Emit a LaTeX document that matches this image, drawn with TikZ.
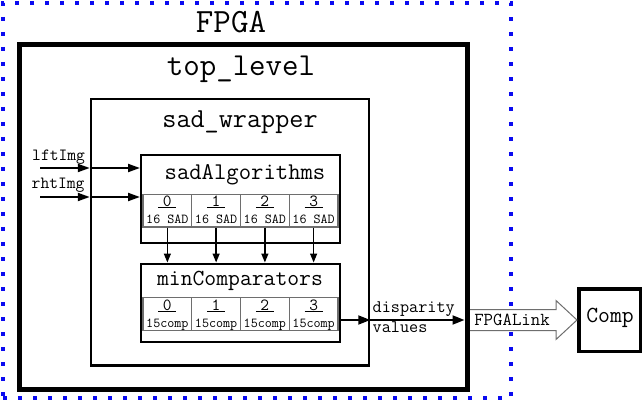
\documentclass[tikz,border=0pt]{standalone}
\usepackage{fontspec}
\usetikzlibrary{arrows.meta,calc}
\newcommand\fsz[1]{\fontsize{#1}{#1}\selectfont\ttfamily}
\newcommand\ulnum[1]{\rlap{\rule[-1.6pt]{18pt}{1.1pt}}\makebox[18pt]{#1}}
\definecolor{fpgablue}{RGB}{10,10,240}
\definecolor{cellgray}{RGB}{110,110,110}
\begin{document}
\begin{tikzpicture}[x=1pt,y=-1pt,
  fpgabox/.style={draw=fpgablue,line width=4pt,dash pattern=on 4pt off 11pt,minimum width=508pt,minimum height=395pt,inner sep=0pt},
  topbox/.style={draw,line width=5pt,minimum width=447.5pt,minimum height=344pt,inner sep=0pt},
  wrapbox/.style={draw,line width=2.5pt,minimum width=278pt,minimum height=266.5pt,inner sep=0pt},
  modbox/.style={draw,line width=2pt,minimum width=199pt,inner sep=0pt},
  cellbox/.style={draw=cellgray,line width=1.2pt,minimum width=48.75pt,inner sep=0pt},
  compbox/.style={draw,line width=3.5pt,minimum width=61.5pt,minimum height=62.5pt,inner sep=0pt},
  txt/.style={inner sep=0pt,anchor=base},
  inarr/.style={-{Triangle[length=12pt,width=8pt]},line width=2pt},
  darr/.style={-{Triangle[length=9pt,width=7pt]},line width=1.3pt},
  oarr/.style={-{Triangle[length=12pt,width=9pt]},line width=2pt},
  linkarr/.style={draw=cellgray,line width=1pt,fill=white}
]
\useasboundingbox (0,0) rectangle (643,401);

% boxes
\node[fpgabox] (fpga) at (257,200.5) {};
\node[compbox] (comp) at (609.5,320) {};

% FPGALink arrow
\coordinate (oy) at (0,320);
\coordinate (ls) at (comp.west -| 469,0);
\draw[linkarr] ($(ls)+(0,-10.5)$) -- ($(comp.west)+(-21,-10.5)$) -- ($(comp.west)+(-21,-19.5)$)
  -- (comp.west) -- ($(comp.west)+(-21,19.5)$) -- ($(comp.west)+(-21,10.5)$) -- ($(ls)+(0,10.5)$);

\node[topbox] (top) at (243.25,217) {};
\node[wrapbox] (wrap) at (230,232.25) {};
\node[modbox,minimum height=87pt] (sadA) at (240.5,199) {};
\node[modbox,minimum height=78.5pt] (minC) at (240.5,302.75) {};

% titles
\node[txt,font=\fsz{34}] (tfpga) at (231,32.7) {FPGA};
\node[txt,font=\fsz{32}] (ttop) at (241,76) {top\_level};
\node[txt,font=\fsz{27.4}] (twrap) at (240,128) {sad\_wrapper};
\node[txt,font=\fsz{24}] (tsad) at (245,180) {sadAlgorithms};
\node[txt,font=\fsz{23}] (tmin) at (240,285) {minComparators};
\node[txt,font=\fsz{23}] (tcomp) at (610,322.7) {Comp};
\node[txt,font=\fsz{18.3}] (tlink) at (512,325) {FPGALink};

% cells
\foreach \i in {0,1,2,3}{
  \node[cellbox,minimum height=32.5pt] (s\i) at ({167.375+48.75*\i},210.75) {};
  \node[txt,font=\fsz{17}] (sd\i) at ($(s\i.north)+(0,12.2)$) {\ulnum{\i}};
  \node[txt,font=\fsz{13.7}] (sl\i) at ($(s\i.south)+(0,-4)$) {16 SAD};
  \node[cellbox,minimum height=33pt] (m\i) at ({167.375+48.75*\i},314) {};
  \node[txt,font=\fsz{17}] (md\i) at ($(m\i.north)+(0,13.3)$) {\ulnum{\i}};
  \node[txt,font=\fsz{13.7}] (ml\i) at ($(m\i.south)+(0,-4)$) {15comp};
  \draw[darr] (s\i.south) -- (s\i.south |- minC.north);
}

% inputs
\coordinate (lin) at (40,168);
\coordinate (rin) at (40,197);
\node[txt,font=\fsz{17.1},anchor=base west] (llft) at (32,160.7) {lftImg};
\node[txt,font=\fsz{17.1},anchor=base west] (lrht) at (31.5,189) {rhtImg};
\draw[inarr] (lin) -- (lin -| wrap.west);
\draw[inarr] (lin -| wrap.west) -- (lin -| sadA.west);
\draw[inarr] (rin) -- (rin -| wrap.west);
\draw[inarr] (rin -| wrap.west) -- (rin -| sadA.west);

% output
\draw[oarr] (minC.east |- oy) -- (wrap.east |- oy);
\draw[oarr] (wrap.east |- oy) -- ($(top.east |- oy)+(-5,0)$);
\node[txt,font=\fsz{17.7},anchor=base west] (ldisp) at (372.5,312) {disparity};
\node[txt,font=\fsz{17.7},anchor=base west] (lval) at (372.5,332) {values};
\end{tikzpicture}
\end{document}
